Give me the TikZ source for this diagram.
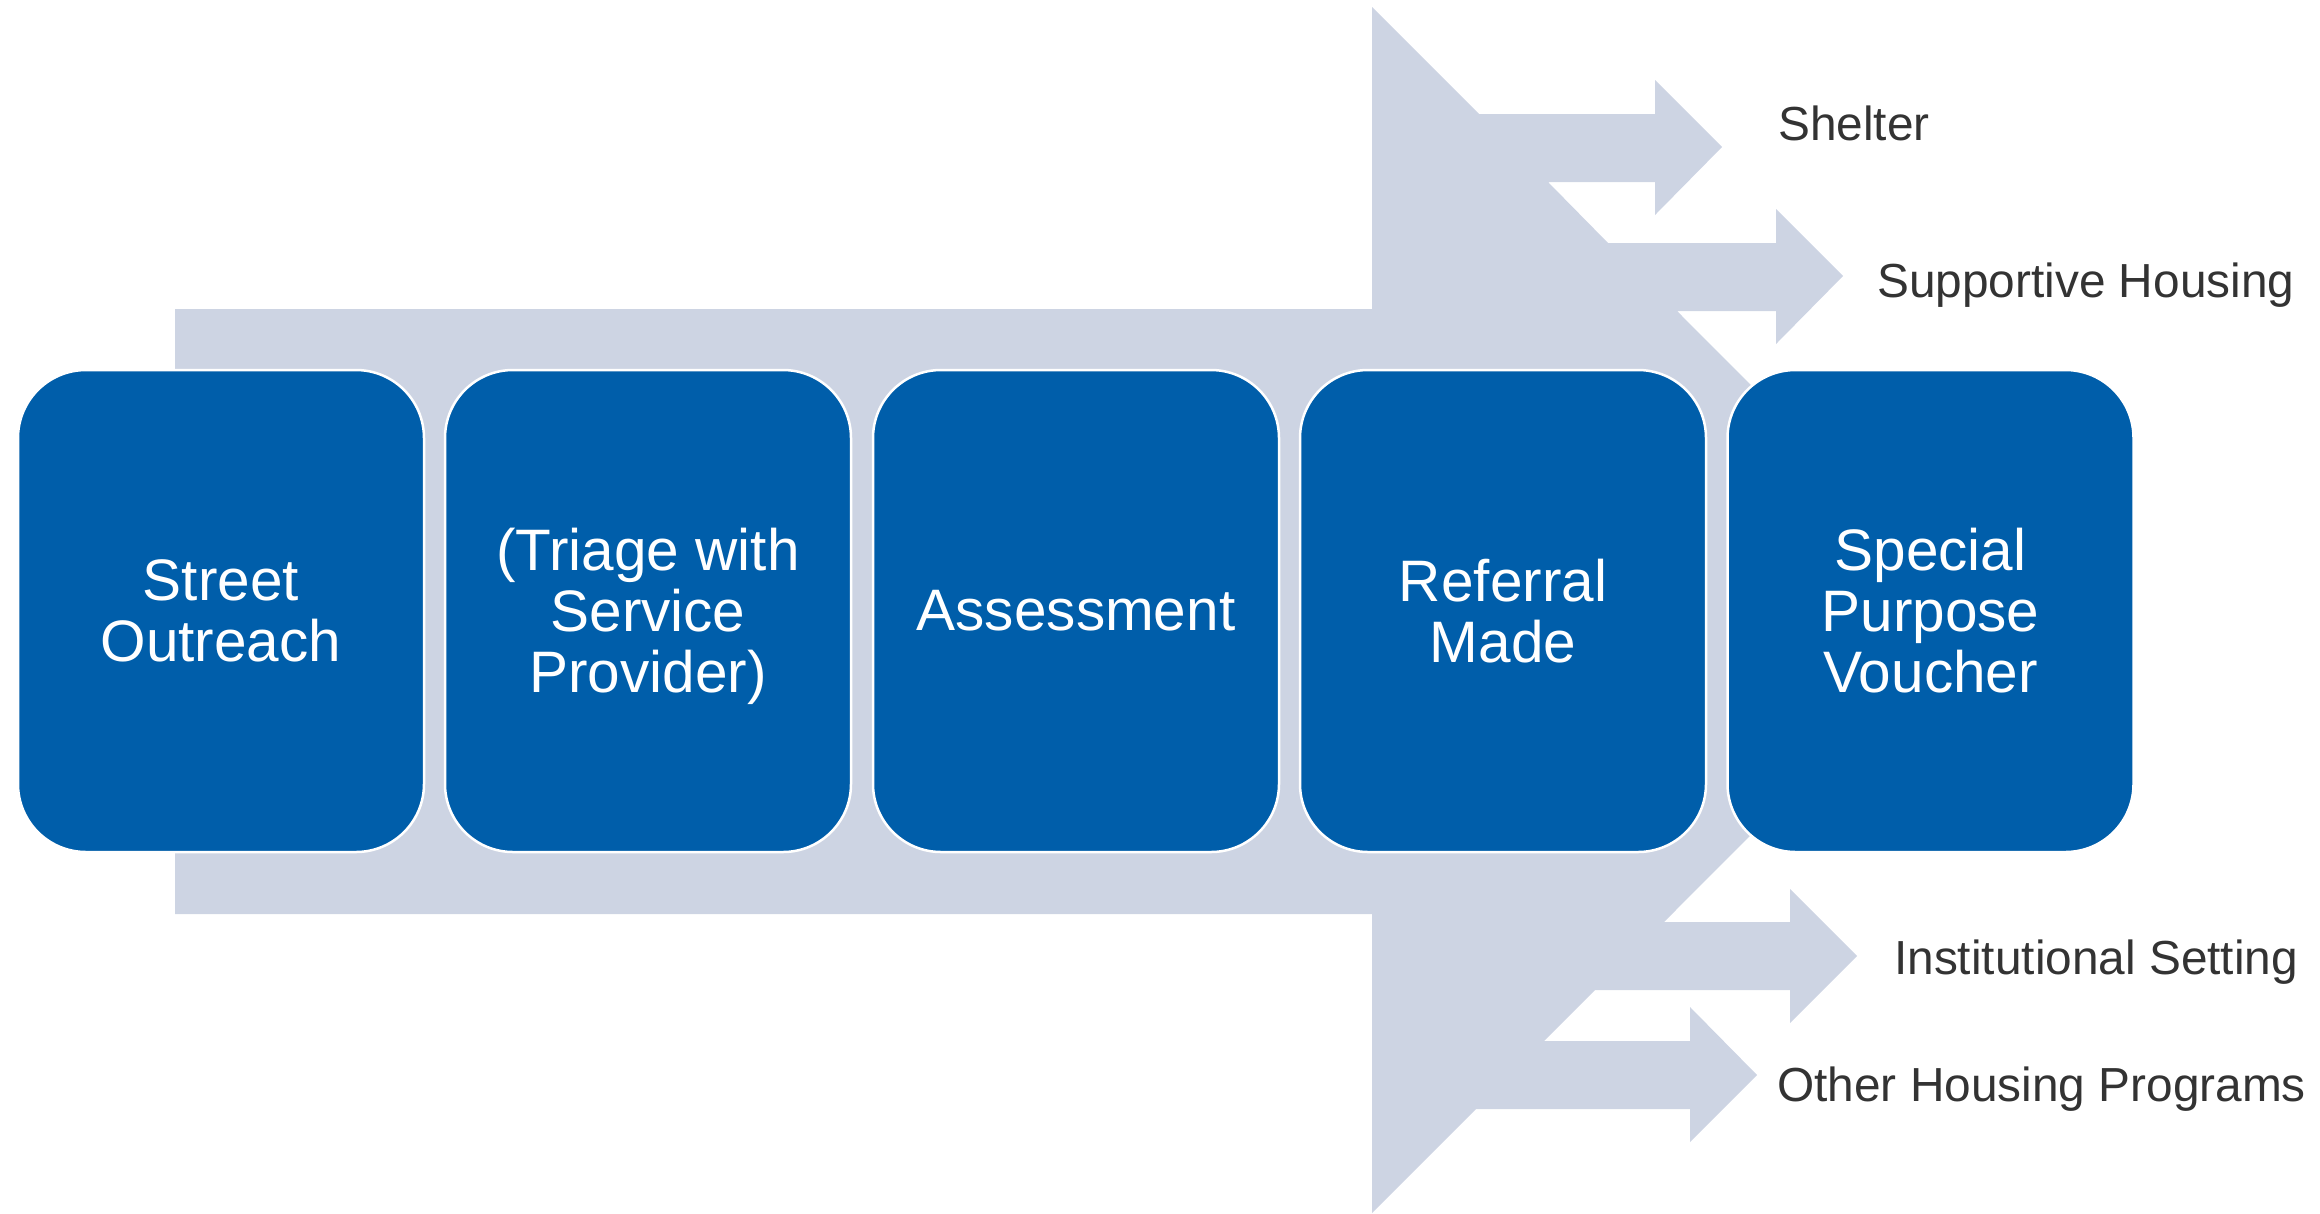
\documentclass[tikz,border=0pt]{standalone}
\usepackage{fontspec}
\setmainfont{Liberation Sans}
\definecolor{boxblue}{RGB}{0,94,170}
\definecolor{arrowgray}{RGB}{205,212,227}
\definecolor{labelgray}{RGB}{51,51,51}
\tikzset{
  stepbox/.style={rectangle, rounded corners=68pt, fill=boxblue, draw=white, line width=2.5pt,
    minimum width=406pt, minimum height=482pt, text=white, align=center,
    font=\fontsize{58.5}{61}\selectfont, inner sep=0pt},
  outlbl/.style={anchor=base west, text=labelgray, font=\fontsize{47.8}{56}\selectfont, inner sep=0pt},
  flowshape/.style={fill=arrowgray, draw=none}
}
\begin{document}
\begin{tikzpicture}[x=1pt,y=-1pt]
\useasboundingbox (0,0) rectangle (2320,1213);
% combined band + branching arrow
\path[flowshape] (175,309) -- (1372,309) -- (1372,7) -- (1479,114) -- (1655,114) -- (1655,80)
  -- (1722,147) -- (1655,215) -- (1655,182) -- (1548,182) -- (1608,243) -- (1776,243)
  -- (1776,209) -- (1843,276) -- (1776,344) -- (1776,311) -- (1677,311) -- (1975,610)
  -- (1664,922) -- (1790,922) -- (1790,889) -- (1857,956) -- (1790,1023) -- (1790,990)
  -- (1595,990) -- (1544,1041) -- (1690,1041) -- (1690,1007) -- (1757,1075) -- (1690,1142)
  -- (1690,1109) -- (1476,1109) -- (1372,1213) -- (1372,914) -- (175,914) -- cycle;
% steps
\node[stepbox] (s1) at (221,611) {Street\\Outreach};
\node[stepbox] (s2) at (648,611) {\raisebox{-5pt}[\height][\depth]{\parbox{406pt}{\centering(Triage with\\Service\\Provider)}}};
\node[stepbox] (s3) at (1076,611) {Assessment};
\node[stepbox] (s4) at (1503,611) {Referral\\Made};
\node[stepbox] (s5) at (1930.5,611) {Special\\Purpose\\Voucher};
% outcomes
\node[outlbl] (o1) at (1778,140) {Shelter};
\node[outlbl] (o2) at (1877,297) {Supportive Housing};
\node[outlbl] (o3) at (1894,974) {Institutional Setting};
\node[outlbl] (o4) at (1777,1101) {Other Housing Programs};
\end{tikzpicture}
\end{document}
